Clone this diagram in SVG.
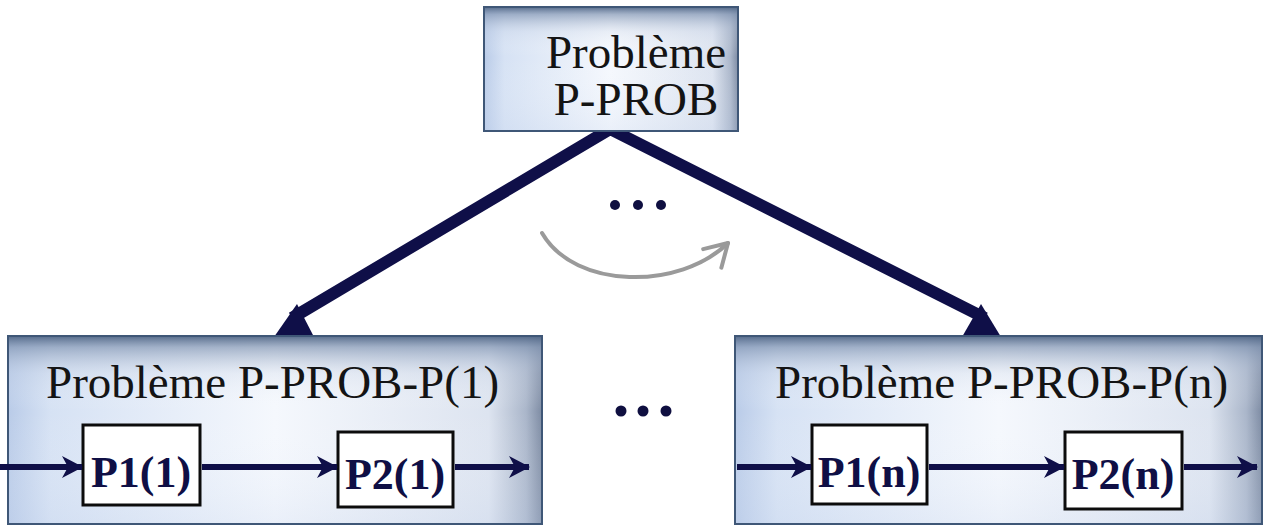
<svg xmlns="http://www.w3.org/2000/svg" width="1269" height="527" viewBox="0 0 1269 527">
  <defs>
    <!-- soft blue panel fill: light left, bright middle, greyer right edge -->
    <linearGradient id="panelH" x1="0" y1="0" x2="1" y2="0">
      <stop offset="0" stop-color="#b9cbe8"/>
      <stop offset="0.08" stop-color="#d6e2f4"/>
      <stop offset="0.5" stop-color="#f5f8fd"/>
      <stop offset="0.9" stop-color="#dde4f0"/>
      <stop offset="0.97" stop-color="#aab6ca"/>
      <stop offset="1" stop-color="#7d8ba3"/>
    </linearGradient>
    <!-- darker band along the top edge -->
    <linearGradient id="panelTop" x1="0" y1="0" x2="0" y2="1">
      <stop offset="0" stop-color="#4f6585" stop-opacity="0.95"/>
      <stop offset="0.06" stop-color="#8497b4" stop-opacity="0.7"/>
      <stop offset="0.2" stop-color="#c5d0e2" stop-opacity="0.25"/>
      <stop offset="0.4" stop-color="#ffffff" stop-opacity="0"/>
      <stop offset="1" stop-color="#c8d6ee" stop-opacity="0.25"/>
    </linearGradient>
    <marker id="flowHead" markerWidth="21" markerHeight="22" refX="20" refY="11" orient="auto" markerUnits="userSpaceOnUse">
      <path d="M0,0 L21,11 L0,22 L6,11 Z" fill="#0f0f48"/>
    </marker>
    <marker id="greyHead" markerWidth="34" markerHeight="34" refX="27" refY="17" orient="auto" markerUnits="userSpaceOnUse">
      <path d="M5,4 L27,17 L5,30" fill="none" stroke="#9a9a9a" stroke-width="4" stroke-linecap="round" stroke-linejoin="round"/>
    </marker>
    <style>
      .panel-fill { fill: url(#panelH); }
      .panel-shade { fill: url(#panelTop); stroke: #3f5777; stroke-width: 2; }
      .title { font-family: "Liberation Serif", "Times New Roman", serif; font-size: 47px; fill: #141414; }
      .step { fill: #ffffff; stroke: #0c0c0c; stroke-width: 3; }
      .step-label { font-family: "Liberation Serif", "Times New Roman", serif; font-size: 44px; font-weight: bold; fill: #0f0f45; text-anchor: middle; }
      .branch { stroke: #0f0f48; stroke-width: 12; fill: none; stroke-linejoin: miter; }
      .branch-head { fill: #0f0f48; }
      .flow { stroke: #0f0f48; stroke-width: 6; fill: none; marker-end: url(#flowHead); }
      .dot { fill: #0f0f40; }
    </style>
  </defs>

  <rect x="0" y="0" width="1269" height="527" fill="#ffffff"/>

  <!-- branches from the main problem to its sub-problems -->
  <g id="connectors">
    <polyline class="branch" points="292,318 610,129 985,318"/>
    <polygon class="branch-head" points="297,304 274,337 314,337"/>
    <polygon class="branch-head" points="981,304 962,337 1001,337"/>
    <path d="M542,233 C575,290 680,290 728,243" fill="none" stroke="#9a9a9a" stroke-width="4" stroke-linecap="round" marker-end="url(#greyHead)"/>
  </g>

  <!-- ellipsis between the branches -->
  <g id="dots-top">
    <circle class="dot" cx="615" cy="205" r="5"/>
    <circle class="dot" cx="638" cy="205" r="5"/>
    <circle class="dot" cx="661" cy="205" r="5"/>
  </g>

  <g id="node-prob">
    <rect class="panel-fill" x="484" y="7" width="254" height="124"/>
    <rect class="panel-shade" x="484" y="7" width="254" height="124"/>
    <text class="title" x="636" y="68" text-anchor="middle">Problème</text>
    <text class="title" x="636" y="115" text-anchor="middle">P-PROB</text>
  </g>

  <g id="node-prob-p1">
    <rect class="panel-fill" x="8" y="336" width="534" height="188"/>
    <rect class="panel-shade" x="8" y="336" width="534" height="188"/>
    <text class="title" x="46" y="398">Problème P-PROB-P(1)</text>
    <g id="node-p1-1">
      <rect class="step" x="83" y="425" width="117" height="80"/>
      <text class="step-label" x="141" y="487">P1(1)</text>
    </g>
    <g id="node-p2-1">
      <rect class="step" x="338" y="432" width="115" height="75"/>
      <text class="step-label" x="395" y="489">P2(1)</text>
    </g>
  </g>

  <g id="dots-bottom">
    <circle class="dot" cx="621" cy="411" r="5.5"/>
    <circle class="dot" cx="643" cy="411" r="5.5"/>
    <circle class="dot" cx="666" cy="411" r="5.5"/>
  </g>

  <g id="node-prob-pn">
    <rect class="panel-fill" x="735" y="336" width="527" height="188"/>
    <rect class="panel-shade" x="735" y="336" width="527" height="188"/>
    <text class="title" x="775" y="398">Problème P-PROB-P(n)</text>
    <g id="node-p1-n">
      <rect class="step" x="812" y="425" width="115" height="79"/>
      <text class="step-label" x="869" y="487">P1(n)</text>
    </g>
    <g id="node-p2-n">
      <rect class="step" x="1065" y="432" width="117" height="77"/>
      <text class="step-label" x="1123" y="489">P2(n)</text>
    </g>
  </g>

  <!-- sequential flow inside each sub-problem -->
  <g id="flow-connectors">
    <line class="flow" x1="0" y1="467" x2="82" y2="467"/>
    <line class="flow" x1="202" y1="467" x2="337" y2="467"/>
    <line class="flow" x1="455" y1="467" x2="529" y2="467"/>
    <line class="flow" x1="737" y1="467" x2="811" y2="467"/>
    <line class="flow" x1="929" y1="467" x2="1064" y2="467"/>
    <line class="flow" x1="1184" y1="467" x2="1257" y2="467"/>
  </g>
</svg>
